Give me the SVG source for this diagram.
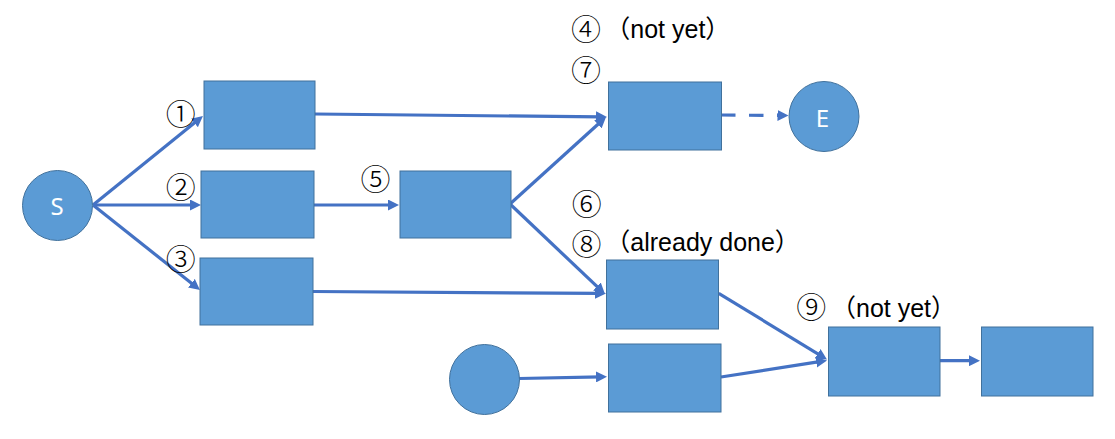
<svg xmlns="http://www.w3.org/2000/svg" width="1115" height="439" viewBox="0 0 1115 439">
<defs>
<style>
.box{fill:#5B9BD5;stroke:#41719C;stroke-width:1}
.node{fill:#5B9BD5;stroke:#41719C;stroke-width:1}
.ntxt{fill:#FFFFFF;font-family:"Noto Sans","Liberation Sans",sans-serif;font-size:24px;text-anchor:middle}
.edge{stroke:#4472C4;stroke-width:3.2;fill:none;marker-end:url(#ah)}
.dash{stroke-dasharray:14.5 13.5}
.lbl{fill:#000000;font-family:"Liberation Sans","Noto Sans CJK JP",sans-serif;font-size:25px}
.num{font-family:"Noto Sans CJK JP",sans-serif;font-size:30px;font-weight:300;text-anchor:middle}
</style>
<marker id="ah" markerUnits="userSpaceOnUse" markerWidth="12" markerHeight="11" refX="5" refY="5.5" orient="auto">
<path d="M0,0 L11,5.5 L0,11 z" fill="#4472C4"/>
</marker>
</defs>
<rect width="1115" height="439" fill="#FFFFFF"/>
<g id="connectors">
<line class="edge" x1="93" y1="205" x2="198.3" y2="119.8"/>
<line class="edge" x1="93" y1="205" x2="195" y2="205"/>
<line class="edge" x1="93" y1="205" x2="195.3" y2="286.3"/>
<line class="edge" x1="315" y1="114" x2="601" y2="116.9"/>
<line class="edge" x1="314" y1="205" x2="393" y2="205"/>
<line class="edge" x1="510" y1="204" x2="601.6" y2="121"/>
<line class="edge" x1="510" y1="204" x2="600.6" y2="289.9"/>
<line class="edge" x1="313" y1="291.5" x2="600" y2="293.4"/>
<line class="edge" x1="519" y1="378.5" x2="601" y2="376.8"/>
<line class="edge" x1="718.7" y1="293.3" x2="821.9" y2="356.4"/>
<line class="edge" x1="721" y1="377" x2="821.1" y2="361.4"/>
<line class="edge" x1="940" y1="360.7" x2="974" y2="360.7"/>
<line class="edge dash" x1="721" y1="115" x2="782.5" y2="115.5"/>
</g>
<g id="node-S"><circle class="node" cx="57.5" cy="205.5" r="35"/><text class="ntxt" x="57" y="214.5">S</text></g>
<g id="node-1"><rect class="box" x="204" y="81" width="111" height="68"/></g>
<g id="node-2"><rect class="box" x="201" y="171" width="113" height="67"/></g>
<g id="node-3"><rect class="box" x="200" y="258" width="113" height="67"/></g>
<g id="node-5"><rect class="box" x="400" y="171" width="111" height="67"/></g>
<g id="node-7"><rect class="box" x="608.5" y="82" width="113" height="68"/></g>
<g id="node-E"><circle class="node" cx="824" cy="116.5" r="35"/><text class="ntxt" x="822.5" y="126.5">E</text></g>
<g id="node-8"><rect class="box" x="606.5" y="260" width="112" height="69"/></g>
<g id="node-X"><circle class="node" cx="484.5" cy="379.5" r="35"/></g>
<g id="node-B"><rect class="box" x="608.5" y="344" width="112.5" height="68"/></g>
<g id="node-9"><rect class="box" x="828.5" y="327" width="111.5" height="69"/></g>
<g id="node-R"><rect class="box" x="981.5" y="327" width="111.5" height="69"/></g>
<g id="labels">
<text class="lbl num" x="180.8" y="124.5">①</text>
<text class="lbl num" x="180.7" y="198">②</text>
<text class="lbl num" x="180.7" y="269.5">③</text>
<text class="lbl"><tspan class="num" x="586" y="40">④</tspan><tspan x="605.3" y="37.7">（not yet）</tspan></text>
<text class="lbl num" x="375.5" y="190">⑤</text>
<text class="lbl num" x="586.7" y="215">⑥</text>
<text class="lbl num" x="586" y="80.5">⑦</text>
<text class="lbl"><tspan class="num" x="586.5" y="254.7">⑧</tspan><tspan x="605.3" y="250.7">（already done）</tspan></text>
<text class="lbl"><tspan class="num" x="811.3" y="318">⑨</tspan><tspan x="831" y="317">（not yet）</tspan></text>
</g>
</svg>
